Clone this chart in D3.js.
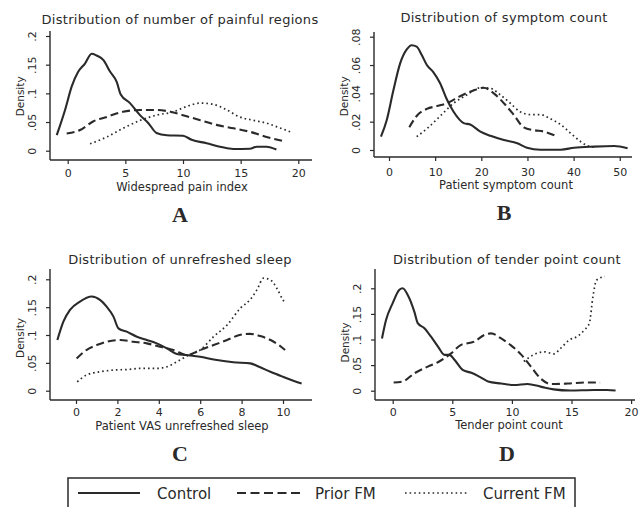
<!DOCTYPE html>
<html><head><meta charset="utf-8">
<script src="https://cdn.jsdelivr.net/npm/d3@7"></script>
<style>
html,body{margin:0;padding:0;background:#fff;}
svg{display:block;}
text{font-family:"DejaVu Sans",sans-serif;fill:#2a2a2a;}
</style></head>
<body><svg id="c" width="643" height="507"></svg>
<script>
// ---------- Data ----------
const seriesNames = ["Control", "Prior FM", "Current FM"];
const panelTitles = ["Distribution of number of painful regions", "Distribution of symptom count",
                     "Distribution of unrefreshed sleep", "Distribution of tender point count"];
const xLabels = ["Widespread pain index", "Patient symptom count", "Patient VAS unrefreshed sleep", "Tender point count"];
const panelLetters = ["A", "B", "C", "D"];

const xTicksA = [0, 5, 10, 15, 20];
const yTicksA = [0, 0.05, 0.1, 0.15, 0.2];
const yTickLabelsA = ["0", ".05", ".1", ".15", ".2"];
const xTicksB = [0, 10, 20, 30, 40, 50];
const yTicksB = [0, 0.02, 0.04, 0.06, 0.08];
const yTickLabelsB = ["0", ".02", ".04", ".06", ".08"];
const xTicksC = [0, 2, 4, 6, 8, 10];
const yTicksC = [0, 0.05, 0.1, 0.15, 0.2];
const yTickLabelsC = ["0", ".05", ".1", ".15", ".2"];
const xTicksD = [0, 5, 10, 15, 20];
const yTicksD = [0, 0.05, 0.1, 0.15, 0.2];
const yTickLabelsD = ["0", ".05", ".1", ".15", ".2"];

const painControl = [[-0.95,0.027],[-0.23,0.071],[0.35,0.112],[0.92,0.138],[1.5,0.152],[2.08,0.169],[2.5,0.166],[3.1,0.158],[3.67,0.138],[4.25,0.12],[4.6,0.098],[5.4,0.083],[6.27,0.062],[7.0,0.048],[7.7,0.031],[8.6,0.027],[10.0,0.026],[10.75,0.019],[12.05,0.013],[13.2,0.007],[14.36,0.003],[15.8,0.0035],[16.4,0.007],[17.25,0.007],[18.1,0.002]];
const painPrior = [[-0.09,0.030],[1.07,0.036],[2.2,0.051],[3.4,0.059],[4.8,0.068],[6.3,0.071],[7.7,0.071],[8.9,0.068],[10.0,0.062],[11.5,0.053],[12.9,0.045],[14.4,0.039],[15.8,0.033],[17.25,0.024],[18.85,0.016]];
const painCurrent = [[1.94,0.012],[3.4,0.024],[4.8,0.039],[6.3,0.053],[7.7,0.062],[9.2,0.068],[10.3,0.077],[11.5,0.083],[12.6,0.081],[13.8,0.071],[14.9,0.059],[16.1,0.053],[17.25,0.048],[18.1,0.042],[19.3,0.033]];

const symControl = [[-1.74,0.0094],[-0.5,0.021],[0.94,0.042],[2.4,0.061],[3.84,0.071],[4.9,0.074],[6.0,0.073],[7.1,0.067],[8.2,0.060],[9.6,0.055],[11.1,0.047],[12.5,0.036],[14.0,0.027],[16.2,0.019],[17.6,0.018],[19.8,0.013],[22.0,0.010],[24.9,0.007],[27.8,0.0047],[29.9,0.0016],[32.8,0.0002],[37.2,0.0002],[40.1,0.0016],[44.4,0.0024],[48.8,0.0028],[51.7,0.0012]];
const symPrior = [[4.4,0.016],[6.0,0.024],[8.2,0.029],[10.4,0.031],[12.5,0.033],[15.4,0.038],[18.3,0.042],[20.5,0.044],[22.7,0.040],[24.9,0.033],[27.0,0.025],[29.2,0.016],[31.4,0.014],[33.6,0.013],[36.1,0.010]];
const symCurrent = [[6.0,0.0094],[8.2,0.015],[11.1,0.024],[14.0,0.033],[16.9,0.039],[19.8,0.044],[22.0,0.0435],[24.1,0.039],[26.3,0.033],[28.4,0.027],[30.7,0.025],[32.8,0.025],[35.0,0.022],[37.2,0.018],[39.3,0.012],[41.5,0.006],[43.0,0.003],[44.5,0.002]];

const sleepControl = [[-0.9,0.091],[-0.61,0.124],[-0.29,0.145],[0.19,0.160],[0.76,0.169],[1.16,0.163],[1.48,0.151],[1.81,0.133],[2.05,0.112],[2.45,0.106],[2.94,0.097],[3.42,0.091],[3.9,0.085],[4.39,0.076],[4.87,0.066],[5.35,0.064],[6.0,0.061],[6.65,0.056],[7.6,0.051],[8.42,0.049],[8.9,0.042],[9.39,0.034],[10.0,0.025],[10.5,0.018],[10.9,0.013]];
const sleepPrior = [[0.03,0.058],[0.5,0.073],[1.0,0.082],[1.48,0.088],[2.13,0.091],[2.77,0.088],[3.42,0.085],[4.06,0.079],[4.71,0.073],[5.35,0.064],[6.0,0.073],[6.65,0.082],[7.3,0.091],[7.9,0.100],[8.4,0.102],[8.9,0.098],[9.4,0.091],[9.8,0.082],[10.1,0.073]];
const sleepCurrent = [[0.06,0.016],[0.5,0.028],[1.16,0.034],[1.8,0.037],[2.45,0.038],[3.1,0.040],[3.9,0.040],[4.39,0.043],[4.87,0.052],[5.35,0.062],[6.0,0.073],[6.65,0.097],[7.3,0.118],[7.94,0.148],[8.4,0.163],[8.74,0.181],[9.06,0.202],[9.39,0.199],[9.7,0.184],[10.0,0.163],[10.1,0.158]];

const tenderControl = [[-0.9,0.102],[-0.56,0.138],[0.0,0.171],[0.56,0.197],[0.84,0.200],[1.26,0.187],[1.82,0.154],[2.1,0.132],[2.66,0.122],[3.2,0.106],[3.8,0.086],[4.35,0.070],[4.76,0.070],[5.2,0.060],[5.9,0.040],[6.6,0.035],[7.3,0.027],[8.0,0.018],[9.1,0.014],[10.2,0.011],[11.3,0.013],[12.4,0.008],[13.5,0.0026],[14.9,0.0003],[16.9,0.0013],[18.0,0.0013],[18.7,0.0003]];
const tenderPrior = [[0.08,0.016],[0.84,0.018],[1.82,0.034],[2.94,0.047],[3.9,0.057],[4.9,0.073],[5.7,0.089],[6.85,0.096],[7.7,0.109],[8.25,0.112],[9.1,0.102],[9.9,0.089],[10.8,0.070],[11.6,0.047],[12.4,0.024],[13.3,0.013],[14.7,0.014],[16.3,0.016],[17.4,0.016]];
const tenderCurrent = [[11.0,0.057],[11.8,0.070],[12.7,0.076],[13.5,0.072],[14.1,0.083],[14.8,0.099],[15.5,0.106],[16.1,0.119],[16.5,0.132],[16.8,0.184],[17.1,0.216],[17.8,0.223]];

// ---------- Layout ----------
const svg = d3.select("#c");
const ink = "#2a2a2a";
const styles = [
  {dash: null, width: 2.1},
  {dash: "8,4", width: 2.1},
  {dash: "1.6,3", width: 1.7}
];

const panels = [
  {series:[painControl,painPrior,painCurrent], xTicks:xTicksA, yTicks:yTicksA, yLab:yTickLabelsA,
   axL:50, axR:312, axB:160, axT:31, x0:67.7, xk:11.53, yDom:[0,0.2], yRng:[150.7,36], xTickY:177, cx:180, titleY:24, xLabY:191, letY:222},
  {series:[symControl,symPrior,symCurrent], xTicks:xTicksB, yTicks:yTicksB, yLab:yTickLabelsB,
   axL:374, axR:632, axB:157, axT:32, x0:389, xk:4.615, yDom:[0,0.08], yRng:[150,36.7], xTickY:176, cx:504, titleY:22, xLabY:189, letY:220},
  {series:[sleepControl,sleepPrior,sleepCurrent], xTicks:xTicksC, yTicks:yTicksC, yLab:yTickLabelsC,
   axL:50, axR:312, axB:400, axT:269, x0:76, xk:20.7, yDom:[0,0.2], yRng:[390.7,279.3], xTickY:416, cx:180, titleY:264, xLabY:430, letY:461},
  {series:[tenderControl,tenderPrior,tenderCurrent], xTicks:xTicksD, yTicks:yTicksD, yLab:yTickLabelsD,
   axL:375, axR:635, axB:400, axT:269, x0:392.7, xk:11.92, yDom:[0,0.2], yRng:[390.7,288.3], xTickY:416, cx:507, titleY:264, xLabY:429, letY:461}
];

panels.forEach((p, i) => {
  const g = svg.append("g");
  const x = d3.scaleLinear().domain([(p.axL - p.x0)/p.xk, (p.axR - p.x0)/p.xk]).range([p.axL, p.axR]);
  const y = d3.scaleLinear().domain(p.yDom).range(p.yRng);

  // axes lines
  g.append("line").attr("x1", p.axL).attr("x2", p.axR).attr("y1", p.axB).attr("y2", p.axB)
    .attr("stroke", ink).attr("stroke-width", 1.4);
  g.append("line").attr("x1", p.axL).attr("x2", p.axL).attr("y1", p.axT).attr("y2", p.axB)
    .attr("stroke", ink).attr("stroke-width", 1.4);

  // x axis ticks via d3 axis
  const xa = d3.axisBottom(x).tickValues(p.xTicks).tickSize(4).tickSizeOuter(0).tickFormat(d3.format("d"));
  const xg = g.append("g").attr("transform", `translate(0,${p.axB})`).call(xa);
  xg.select(".domain").remove();
  xg.selectAll(".tick line").attr("stroke", ink).attr("stroke-width", 1.2);
  xg.selectAll(".tick text").attr("y", p.xTickY - p.axB - 8).attr("dy", "0.71em")
    .style("font-family", "DejaVu Sans").style("font-size", "11px").attr("fill", ink);

  // y axis ticks
  const ya = d3.axisLeft(y).tickValues(p.yTicks).tickSize(4).tickSizeOuter(0)
    .tickFormat((d, j) => p.yLab[j]);
  const yg = g.append("g").attr("transform", `translate(${p.axL},0)`).call(ya);
  yg.select(".domain").remove();
  yg.selectAll(".tick line").attr("stroke", ink).attr("stroke-width", 1.2);
  yg.selectAll(".tick text")
    .attr("x", null).attr("dy", null)
    .attr("text-anchor", "middle")
    .attr("transform", "translate(-14,0) rotate(-90)")
    .attr("y", 0)
    .style("font-family", "DejaVu Sans").style("font-size", "11px").attr("fill", ink);

  // Density label
  g.append("text").attr("transform", `translate(${p.axL - 26},${(p.yRng[0] + p.yRng[1]) / 2 + 3}) rotate(-90)`)
    .attr("text-anchor", "middle").style("font-size", "10.5px").text("Density");

  // title
  g.append("text").attr("x", p.cx).attr("y", p.titleY).attr("text-anchor", "middle")
    .style("font-size", "13px").style("letter-spacing", "0.3px").text(panelTitles[i]);
  // x label
  g.append("text").attr("x", p.cx + 2).attr("y", p.xLabY).attr("text-anchor", "middle")
    .style("font-size", "11.5px").text(xLabels[i]);
  // letter
  g.append("text").attr("x", p.cx).attr("y", p.letY).attr("text-anchor", "middle")
    .style("font-family", "Liberation Serif, serif").style("font-weight", "bold").style("font-size", "22px")
    .text(panelLetters[i]);

  // curves
  const line = d3.line().x(d => x(d[0])).y(d => y(d[1])).curve(d3.curveMonotoneX);
  p.series.forEach((s, k) => {
    g.append("path").datum(s).attr("d", line).attr("fill", "none")
      .attr("stroke", ink).attr("stroke-width", styles[k].width)
      .attr("stroke-dasharray", styles[k].dash);
  });
});

// ---------- Legend ----------
const lg = svg.append("g");
lg.append("path").attr("d", "M68,510 L68,478 L575,478 L575,510").attr("fill", "none")
  .attr("stroke", ink).attr("stroke-width", 1.5);
const legendItems = [
  {x1:78, x2:140, tx:157},
  {x1:237, x2:300, tx:315},
  {x1:405, x2:467, tx:483}
];
legendItems.forEach((it, k) => {
  lg.append("line").attr("x1", it.x1).attr("x2", it.x2).attr("y1", 493).attr("y2", 493)
    .attr("stroke", ink).attr("stroke-width", styles[k].width)
    .attr("stroke-dasharray", k === 1 ? "9,4.5" : styles[k].dash);
  lg.append("text").attr("x", it.tx).attr("y", 498.5).style("font-size", "15px").text(seriesNames[k]);
});
</script></body></html>
